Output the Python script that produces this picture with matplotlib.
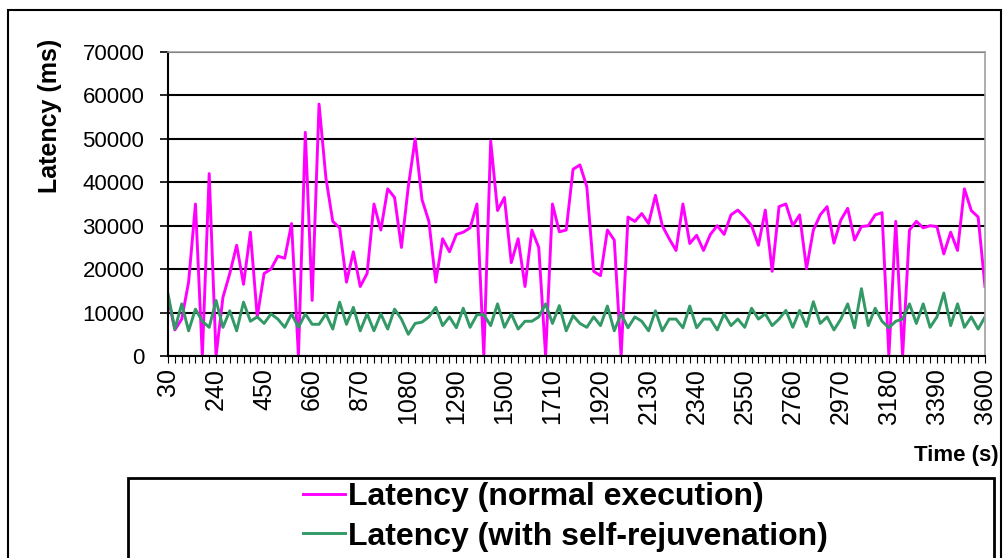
import matplotlib
matplotlib.use('Agg')
import matplotlib.pyplot as plt
from matplotlib.patches import Rectangle

plt.rcParams['font.family'] = ['Liberation Sans', 'DejaVu Sans']

# time axis (s), one sample every 30 s
times = list(range(30, 3630, 30))

normal = [13500, 6000, 8500, 17000, 35000, 0, 42000, 0, 13500, 19000,
          25500, 16500, 28500, 9000, 19000, 20000, 23000, 22500, 30500, 0,
          51500, 12800, 58000, 41000, 31000, 29500, 17000, 24000, 16000, 19000,
          35000, 29000, 38500, 36500, 25000, 39000, 50000, 36000, 31000, 17000,
          27000, 24000, 28000, 28500, 29500, 35000, 0, 49500, 33500, 36500,
          21500, 27000, 16000, 29000, 25000, 0, 35000, 28600, 29000, 43000,
          44000, 39000, 19500, 18500, 29000, 26700, 0, 32000, 31000, 32800,
          30500, 37000, 30000, 27000, 24300, 35000, 25900, 27800, 24300, 28000,
          30000, 28000, 32500, 33600, 32000, 30000, 25500, 33600, 19500, 34400,
          35000, 30000, 32500, 20100, 29000, 32500, 34400, 26000, 31300, 34000,
          26700, 29800, 30000, 32500, 33000, 0, 31000, 0, 29000, 31000,
          29500, 30000, 29800, 23500, 28500, 24300, 38500, 33500, 32000, 16000]

rejuv = [14300, 6200, 12000, 5800, 10800, 8000, 6600, 12800, 6600, 10400,
         5800, 12400, 8000, 9000, 7500, 9700, 8500, 6600, 9700, 6600,
         9700, 7300, 7300, 9700, 6200, 12400, 7300, 11200, 5800, 9700,
         5800, 9700, 6200, 10800, 8500, 5000, 7500, 7800, 9000, 11200,
         7000, 9000, 6500, 11000, 6600, 9500, 9500, 7000, 12000, 6600,
         9700, 6200, 8000, 8000, 9000, 12000, 7500, 11600, 5800, 9300,
         7500, 6600, 9000, 7000, 11500, 5800, 9700, 6500, 9000, 8000,
         5800, 10400, 5800, 8500, 8500, 6500, 11500, 6500, 8500, 8500,
         6000, 9700, 7000, 8500, 6600, 11000, 8500, 9700, 7000, 8500,
         10500, 6600, 10500, 6800, 12500, 7500, 9000, 6000, 8500, 12000,
         6500, 15500, 7000, 11000, 8000, 6500, 8000, 8500, 12000, 7500,
         12000, 6600, 9000, 14500, 7000, 12000, 6600, 9000, 6200, 9000]

labels = ['Latency (normal execution)', 'Latency (with self-rejuvenation)']
yticks = [0, 10000, 20000, 30000, 40000, 50000, 60000, 70000]

W, H = 1006, 558
fig = plt.figure(figsize=(W / 100, H / 100), dpi=100)
ax = fig.add_axes([168 / W, 1 - 356 / H, 817 / W, 304 / H])

idx = list(range(len(times)))
l1, = ax.plot(idx, normal, color='#FF00FF', lw=2.1)
l2, = ax.plot(idx, rejuv, color='#339966', lw=2.1)

ax.set_xlim(0, len(times) - 1)
ax.set_ylim(0, 70000)
ax.set_yticks(yticks)
ax.set_yticklabels([str(v) for v in yticks], fontsize=16)
ax.set_xticks(idx)
ax.set_xticklabels([str(t) if i % 7 == 0 else '' for i, t in enumerate(times)],
                   rotation=90, fontsize=18)
ax.tick_params(axis='y', length=6, width=1.2, pad=11)
ax.tick_params(axis='x', length=5, width=0.8, pad=4)

ax.grid(axis='y', color='black', lw=1.5)
ax.set_axisbelow(True)
for s in ['top', 'right']:
    ax.spines[s].set_color('#a0a0a0')
    ax.spines[s].set_linewidth(1.2)
ax.spines['left'].set_linewidth(1.5)
ax.spines['bottom'].set_linewidth(1.5)

ax.set_ylabel('Latency (ms)', fontsize=18, fontweight='bold', va='center')
ax.yaxis.set_label_coords((50 - 168) / 817, (356 - 116) / 304)
ax.set_xlabel('Time (s)', fontsize=16, fontweight='bold', ha='right', va='center')
ax.xaxis.set_label_coords((999 - 168) / 817, (356 - 456) / 304)

# outer chart border and legend box
fig.add_artist(Rectangle((8 / W, -0.05), 993 / W, 1.05 - 10 / H, transform=fig.transFigure,
                         fill=False, lw=1.5, ec='black'))
fig.add_artist(Rectangle((128 / W, -0.05), 866 / W, 0.05 + 1 - 478 / H, transform=fig.transFigure,
                         fill=False, lw=2, ec='black'))

fig.legend([l1, l2], labels, loc='upper left', bbox_to_anchor=(303 / W, 1 - 482 / H),
           frameon=False, borderpad=0, borderaxespad=0, handlelength=1.3,
           handletextpad=0.1, labelspacing=0.3,
           prop={'size': 23, 'weight': 'bold'})

fig.savefig('out.png', dpi=100)
